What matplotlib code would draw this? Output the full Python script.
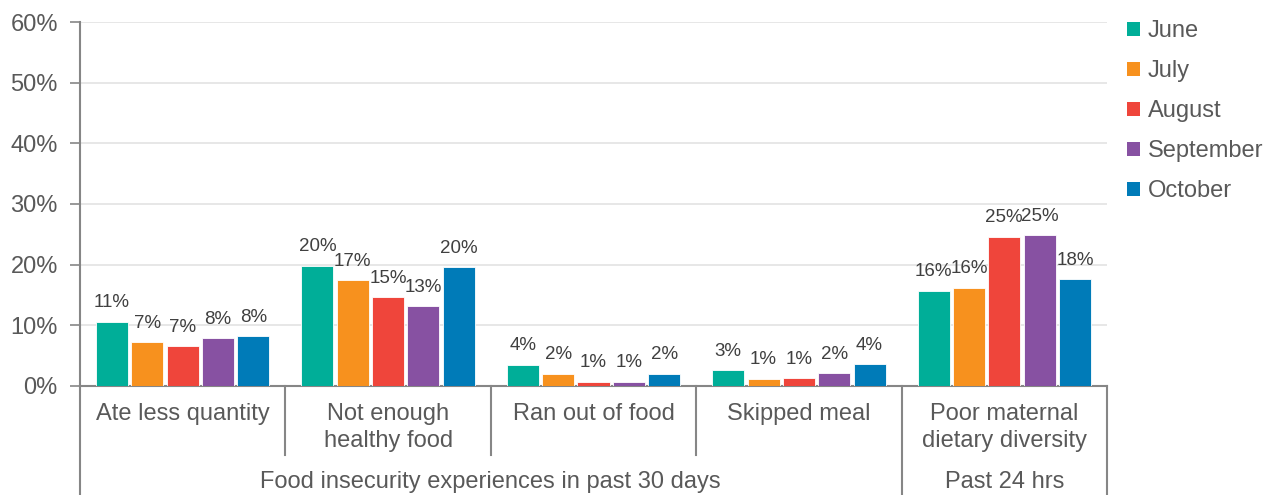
import matplotlib
matplotlib.use("Agg")
import matplotlib.pyplot as plt
from matplotlib.patches import Patch
import numpy as np

plt.rcParams['font.family'] = ['Liberation Sans', 'DejaVu Sans']

categories = ["Ate less quantity", "Not enough\nhealthy food", "Ran out of food",
              "Skipped meal", "Poor maternal\ndietary diversity"]
groups = ["Food insecurity experiences in past 30 days", "Past 24 hrs"]
group_spans = [(0, 4), (4, 5)]
series = ["June", "July", "August", "September", "October"]
june = [10.6, 19.8, 3.5, 2.6, 15.7]
july = [7.2, 17.4, 2.0, 1.2, 16.2]
august = [6.6, 14.6, 0.7, 1.3, 24.6]
september = [7.9, 13.2, 0.7, 2.1, 24.9]
october = [8.2, 19.6, 2.0, 3.6, 17.6]
values = [june, july, august, september, october]
colors = ["#00AE98", "#F7911E", "#EF453B", "#8751A2", "#007BB8"]
yticks = [0, 10, 20, 30, 40, 50, 60]

W, H = 1265, 495
fig = plt.figure(figsize=(W / 100, H / 100), dpi=100)
ax = fig.add_axes([80 / W, (H - 386) / H, (1107 - 80) / W, (386 - 22) / H])

text_col = "#595959"
axis_col = "#868686"
grid_col = "#E3E3E3"
main_fs = 17
lab_fs = 13.5

spacing = 0.172
width = 0.156
x = np.arange(len(categories)) + 0.5
for i, (vals, c) in enumerate(zip(values, colors)):
    pos = x + (i - 2) * spacing
    bars = ax.bar(pos, vals, width=width, color=c, edgecolor="white", linewidth=0.6, zorder=3)
    for b, v in zip(bars, vals):
        ax.annotate(f"{int(round(v))}%", (b.get_x() + b.get_width() / 2, v),
                    xytext=(0, 7.5), textcoords="offset points", ha="center", va="bottom",
                    fontsize=lab_fs, color="#404040", zorder=4)

ax.set_xlim(0, len(categories))
ax.set_ylim(0, 60)
ax.set_yticks(yticks)
ax.set_yticklabels([f"{t}%" for t in yticks], fontsize=main_fs, color=text_col)
ax.yaxis.grid(True, color=grid_col, linewidth=1.2, zorder=0)
ax.set_axisbelow(True)
ax.tick_params(axis="y", direction="out", length=7, width=1.2, color=axis_col, pad=9)
ax.set_xticks([])
for s in ["top", "right"]:
    ax.spines[s].set_visible(False)
for s in ["left", "bottom"]:
    ax.spines[s].set_color(axis_col)
    ax.spines[s].set_linewidth(1.5)

tr = ax.get_xaxis_transform()
inner_bottom = (386 - 455) / (386 - 22)
outer_bottom = (386 - 495) / (386 - 22)
group_edges = sorted(set([e for span in group_spans for e in span]))
for b in range(len(categories) + 1):
    yb = outer_bottom if b in group_edges else inner_bottom
    ax.plot([b, b], [0, yb], transform=tr, color=axis_col, linewidth=1.5, clip_on=False)

for xi, lab in zip(x, categories):
    ax.text(xi, (386 - 403) / 364, lab, transform=tr, ha="center", va="top",
            fontsize=main_fs, color=text_col, linespacing=1.32)

for g, (a, b) in zip(groups, group_spans):
    ax.text((a + b) / 2, (386 - 482) / 364, g, transform=tr, ha="center", va="center",
            fontsize=main_fs, color=text_col)

handles = [Patch(facecolor=c, edgecolor="none") for c in colors]
leg = fig.legend(handles, series, loc="upper left", bbox_to_anchor=(1118 / W, 1 - 11 / H),
                 frameon=False, fontsize=main_fs, handlelength=0.55, handleheight=0.55,
                 handletextpad=0.3, labelspacing=0.76, borderaxespad=0)
for t in leg.get_texts():
    t.set_color(text_col)

fig.savefig("out.png", dpi=100)
